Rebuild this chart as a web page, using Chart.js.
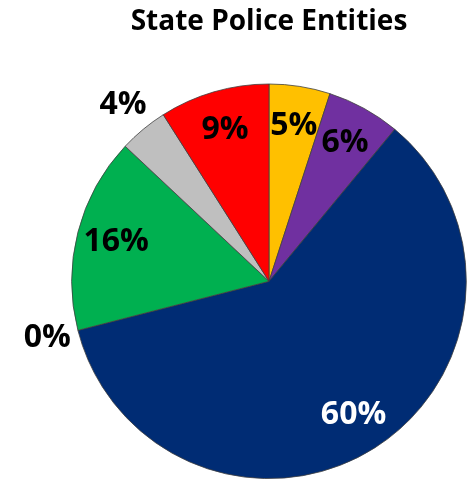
<!DOCTYPE html>
<html>
<head>
<meta charset="utf-8">
<script src="https://cdn.jsdelivr.net/npm/chart.js@4/dist/chart.umd.min.js"></script>
<style>
  html, body { margin: 0; padding: 0; background: #fff; }
  #wrap { width: 470px; height: 479px; }
</style>
</head>
<body>
<div id="wrap"><canvas id="policeChart"></canvas></div>
<script>
// slices go clockwise from 12 o'clock
const categories = ['Yellow', 'Purple', 'Navy', 'None', 'Green', 'Gray', 'Red'];
const shares = [5, 6, 60, 0, 16, 4, 9];
const sliceColors = ['#FFC000', '#7030A0', '#002C74', '#7F7F7F', '#00B050', '#BFBFBF', '#FF0000'];
const labelColors = ['#000', '#000', '#fff', '#000', '#000', '#000', '#000'];

// percent labels: inside for the big slices, outside for the small ones
const pieLabels = {
    id: 'pieLabels',
    afterDatasetsDraw(chart) {
        const ctx = chart.ctx;
        const meta = chart.getDatasetMeta(0);
        ctx.save();
        ctx.font = 'bold 32px "Open Sans"';
        ctx.textAlign = 'center';
        ctx.textBaseline = 'middle';
        meta.data.forEach(function (arc, i) {
            const v = shares[i];
            const mid = (arc.startAngle + arc.endAngle) / 2;
            const r = arc.outerRadius * (v >= 5 ? 0.8 : 1.16);
            ctx.fillStyle = labelColors[i];
            ctx.fillText(v + '%', arc.x + Math.cos(mid) * r, arc.y + Math.sin(mid) * r);
        });
        ctx.restore();
    }
};

new Chart(document.getElementById('policeChart'), {
    type: 'pie',
    data: {
        labels: categories,
        datasets: [{
            data: shares,
            backgroundColor: sliceColors,
            borderColor: '#404040',
            borderWidth: 0.8
        }]
    },
    options: {
        responsive: true,
        maintainAspectRatio: false,
        animation: false,
        layout: { padding: { left: 68, right: 0, top: 0, bottom: 0 } },
        plugins: {
            legend: { display: false },
            tooltip: { enabled: false },
            title: {
                display: true,
                text: 'State Police Entities',
                color: '#000',
                font: { family: '"Open Sans"', size: 28, weight: 'bold' },
                padding: { top: 5, bottom: 45 }
            }
        }
    },
    plugins: [pieLabels]
});
</script>
</body>
</html>
